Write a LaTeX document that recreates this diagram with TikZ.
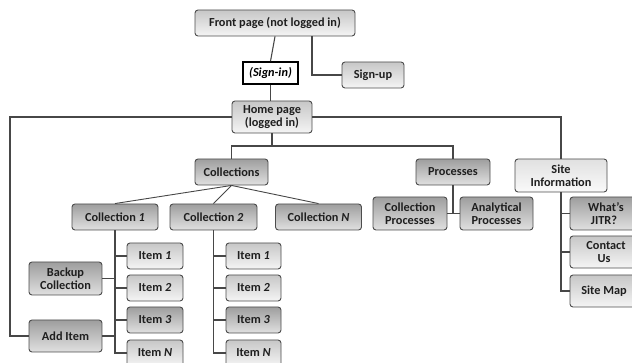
\documentclass[tikz,border=0pt]{standalone}
\usepackage{fontspec}
\setmainfont{Carlito}
\usepackage{tikz}

\begin{document}
\begin{tikzpicture}[x=1pt,y=-1pt,line width=1.1pt,draw=black!75,font=\bfseries\fontsize{12.3}{13.5}\selectfont]
    \tikzstyle{page}=[shape=rectangle, rounded corners=3pt, draw=black!70, line width=0.9pt, align=center, inner sep=1pt, top color=black!22, bottom color=black!4, text=black!88]
    \tikzstyle{darkpage}=[page, top color=black!38, bottom color=black!12]
    \tikzstyle{link}=[draw=black!72, line width=1.1pt]
	\useasboundingbox (0,0) rectangle (632,363);
	\clip (0,0) rectangle (632,363);

	\node[page, minimum width=160pt, minimum height=26pt] (front) at (275, 23) {Front page (not logged in)};
	\node[draw=black, line width=1.6pt, fill=white, minimum width=55pt, minimum height=22pt, inner sep=1pt] (signin) at (270.5, 73) {\textit{(Sign-in)}};
	\node[page, minimum width=62pt, minimum height=26pt] (signup) at (373, 75) {Sign-up};
	\node[page, minimum width=80pt, minimum height=32pt] (home) at (272, 117) {Home page\\(logged in)};

	\node[darkpage, minimum width=73pt, minimum height=26pt] (collections) at (231.5, 172) {Collections};
	\node[darkpage, minimum width=74pt, minimum height=26pt] (processes) at (453, 172) {Processes};
	\node[page, minimum width=92pt, minimum height=33pt, top color=black!12, bottom color=black!2] (siteinfo) at (561, 175.5) {Site\\Information};

	\node[darkpage, minimum width=86pt, minimum height=26pt] (coll1) at (115, 217) {Collection \textit{1}};
	\node[darkpage, minimum width=87pt, minimum height=26pt] (coll2) at (213.5, 217) {Collection \textit{2}};
	\node[darkpage, minimum width=86pt, minimum height=26pt] (colln) at (318.5, 217) {Collection \textit{N}};

	\node[darkpage, minimum width=74pt, minimum height=33pt] (collproc) at (410, 213.5) {Collection\\Processes};
	\node[darkpage, minimum width=73pt, minimum height=33pt] (anaproc) at (496.5, 213.5) {Analytical\\Processes};

	\node[darkpage, minimum width=72pt, minimum height=33pt] (jitr) at (606, 213.5) {What's\\JITR?\hspace*{4pt}};
	\node[page, minimum width=72pt, minimum height=32pt] (contact) at (606, 252) {Contact\\Us\hspace*{4pt}};
	\node[page, minimum width=72pt, minimum height=32pt] (sitemap) at (606, 291) {Site Map\hspace*{4pt}};

	\node[darkpage, minimum width=73pt, minimum height=33pt] (backup) at (65.5, 278.5) {Backup\\Collection};
	\node[darkpage, minimum width=73pt, minimum height=32pt] (additem) at (65.5, 336) {Add Item};

	% items of collection 1 and 2
	\node[page, minimum width=56pt, minimum height=26pt] (c1a) at (155, 256) {Item \textit{1}};
	\node[page, minimum width=56pt, minimum height=26pt] (c1b) at (155, 288) {Item \textit{2}};
	\node[darkpage, minimum width=56pt, minimum height=26pt] (c1c) at (155, 320) {Item \textit{3}};
	\node[page, minimum width=56pt, minimum height=26pt] (c1n) at (155, 353) {Item \textit{N}};

	\node[page, minimum width=55pt, minimum height=26pt] (c2a) at (253.5, 256) {Item \textit{1}};
	\node[page, minimum width=55pt, minimum height=26pt] (c2b) at (253.5, 288) {Item \textit{2}};
	\node[darkpage, minimum width=55pt, minimum height=26pt] (c2c) at (253.5, 320) {Item \textit{3}};
	\node[page, minimum width=55pt, minimum height=26pt] (c2n) at (253.5, 353) {Item \textit{N}};

	\coordinate (leftrail) at (10, 117);
	\coordinate (bus) at (272, 146);

	\draw[link] (front.south) -- (signin.north);
	\draw[link] ([xshift=37pt]front.south) |- (signup.west);
	\draw[link] (signin.south) -- (signin.south |- home.north);
	\draw[link] (home.west) -- (leftrail) |- (additem.west);
	\draw[link] (home.east) -| (siteinfo.north);
	\draw[link] (home.south) -- (bus) -| (collections.north);
	\draw[link] (bus) -| (processes.north);

	\draw[link, line width=0.9pt] (collections.south) -- (coll1.north);
	\draw[link, line width=0.9pt] (collections.south) -- (coll2.north);
	\draw[link, line width=0.9pt] (collections.south) -- (colln.north);

	\draw[link] (processes.south) -- (processes.south |- collproc.east);
	\draw[link] (collproc.east) -- (anaproc.west);

	\draw[link] (siteinfo.south) |- (sitemap.west);
	\draw[link] (siteinfo.south |- jitr.west) -- (jitr.west);
	\draw[link] (siteinfo.south |- contact.west) -- (contact.west);

	\draw[link] (coll1.south) |- (c1n.west);
	\draw[link] (coll1.south |- c1a.west) -- (c1a.west);
	\draw[link] (coll1.south |- c1b.west) -- (c1b.west);
	\draw[link] (coll1.south |- c1c.west) -- (c1c.west);
	\draw[link] (backup.east) -- (backup.east -| coll1.south);
	\draw[link] (additem.east) -- (additem.east -| coll1.south);

	\draw[link] (coll2.south) |- (c2n.west);
	\draw[link] (coll2.south |- c2a.west) -- (c2a.west);
	\draw[link] (coll2.south |- c2b.west) -- (c2b.west);
	\draw[link] (coll2.south |- c2c.west) -- (c2c.west);
\end{tikzpicture}
\end{document}
